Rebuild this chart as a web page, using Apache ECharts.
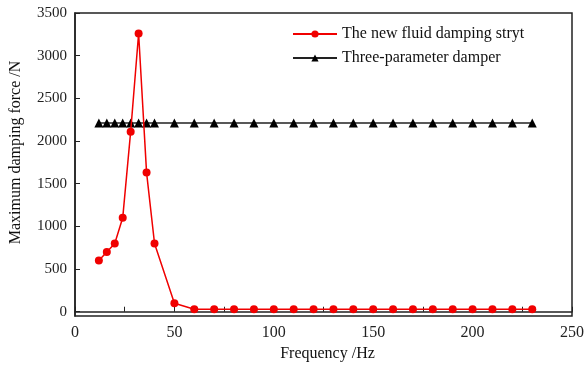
<!DOCTYPE html>
<html lang="en">
<head>
    <meta charset="UTF-8">
    <title>Maximum damping force</title>
    <style>
        html, body { margin: 0; padding: 0; background: #fff; }
        #chart { width: 587px; height: 368px; }
    </style>
</head>
<body>
    <div id="chart"></div>
    <script src="https://cdn.jsdelivr.net/npm/echarts@6/dist/echarts.min.js"></script>
    <script>
        // data
        var freqs = [12, 16, 20, 24, 28, 32, 36, 40, 50, 60, 70, 80, 90, 100, 110, 120, 130, 140, 150, 160, 170, 180, 190, 200, 210, 220, 230];
        var fluidStrut = [600, 700, 800, 1100, 2110, 3260, 1630, 800, 100, 30, 30, 30, 30, 30, 30, 30, 30, 30, 30, 30, 30, 30, 30, 30, 30, 30, 30];
        var threeParam = [2210, 2210, 2210, 2210, 2210, 2210, 2210, 2210, 2210, 2210, 2210, 2210, 2210, 2210, 2210, 2210, 2210, 2210, 2210, 2210, 2210, 2210, 2210, 2210, 2210, 2210, 2210];
        var yTicks = [0, 500, 1000, 1500, 2000, 2500, 3000, 3500];
        var seriesNames = ['The new fluid damping stryt', 'Three-parameter damper'];

        var font = '"Liberation Serif", "Times New Roman", serif';

        function pairs(xs, ys) {
            return xs.map(function (x, i) { return [x, ys[i]]; });
        }

        var chart = echarts.init(document.getElementById('chart'));

        var option = {
            animation: false,
            textStyle: { fontFamily: font },
            grid: {
                left: 75, right: 15, top: 13, bottom: 52,
                outerBoundsMode: 'none',
                containLabel: false,
                show: true, borderColor: '#222', borderWidth: 1.5
            },
            legend: {
                top: 21, left: 287,
                orient: 'vertical',
                itemWidth: 44, itemHeight: 9, itemGap: 8,
                textStyle: { fontFamily: font, fontSize: 16, color: '#111' },
                data: seriesNames
            },
            xAxis: {
                type: 'value',
                min: 0, max: 250, interval: 50,
                name: 'Frequency /Hz',
                nameLocation: 'middle', nameGap: 30,
                nameTextStyle: { fontFamily: font, fontSize: 16, color: '#111', padding: [0, 0, 0, 8] },
                axisLine: { lineStyle: { color: '#222', width: 1.5 } },
                axisTick: { inside: true, length: 5, lineStyle: { color: '#222' } },
                minorTick: { show: true, splitNumber: 2, length: 5, lineStyle: { color: '#222' } },
                axisLabel: { fontFamily: font, fontSize: 16, color: '#222', margin: 9 },
                splitLine: { show: false }
            },
            yAxis: {
                type: 'value',
                min: -50, max: 3500,
                name: 'Maximum damping force /N',
                nameLocation: 'middle', nameGap: 51,
                nameTextStyle: { fontFamily: font, fontSize: 16, color: '#111', padding: [0, 0, 0, 24] },
                axisLine: { show: true, lineStyle: { color: '#222', width: 1.5 } },
                axisTick: { inside: true, length: 5, customValues: yTicks, lineStyle: { color: '#222' } },
                axisLabel: {
                    fontFamily: font, fontSize: 15, color: '#222', margin: 8,
                    customValues: yTicks,
                    formatter: function (v) { return String(v); }
                },
                splitLine: { show: false }
            },
            series: [
                {
                    name: seriesNames[0],
                    type: 'line',
                    data: pairs(freqs, fluidStrut),
                    symbol: 'circle', symbolSize: 8,
                    itemStyle: { color: '#f00000' },
                    lineStyle: { color: '#f00000', width: 1.5 },
                    z: 3
                },
                {
                    name: seriesNames[1],
                    type: 'line',
                    data: pairs(freqs, threeParam),
                    symbol: 'triangle', symbolSize: 9,
                    itemStyle: { color: '#000' },
                    lineStyle: { color: '#222', width: 1.5 },
                    z: 2
                }
            ]
        };

        chart.setOption(option);
    </script>
</body>
</html>
